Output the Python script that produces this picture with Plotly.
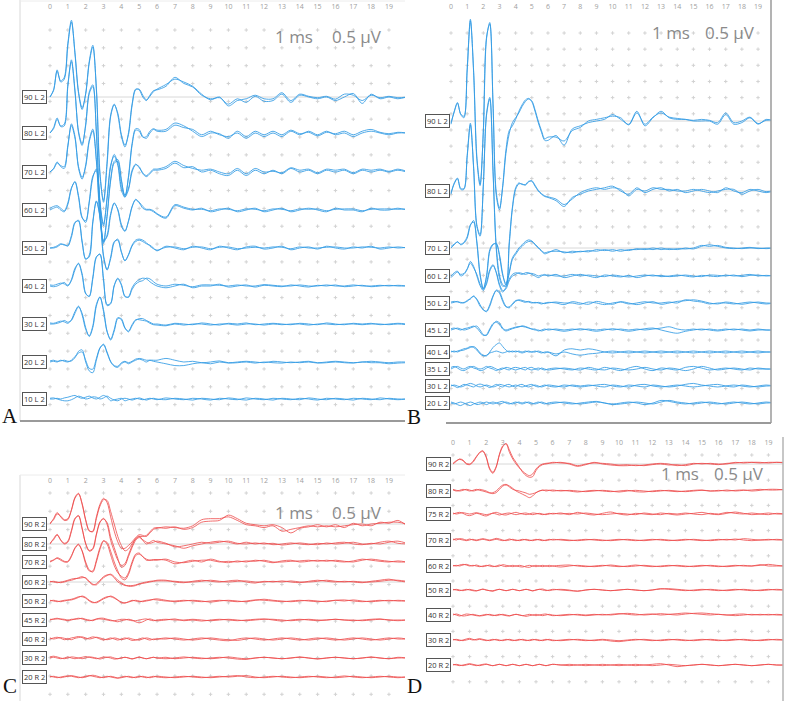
import numpy as np
import plotly.graph_objects as go

# ---------------- time grid (ms) ----------------
T = [0, 0.2, 0.4, 0.6, 0.8, 1.0, 1.2, 1.4, 1.6, 1.8, 2.0, 2.2, 2.4, 2.6, 2.8, 3.0,
     3.2, 3.4, 3.6, 3.8, 4.0, 4.2, 4.4, 4.6, 4.8, 5.0, 5.2, 5.4, 5.6, 5.8, 6.0,
     6.5, 7.0, 7.5, 8.0, 8.5, 9.0, 9.5, 10.0, 10.5, 11.0, 11.5, 12.0, 12.5, 13.0,
     13.5, 14.0, 14.5, 15.0, 15.5, 16.0, 16.5, 17.0, 17.5, 18.0, 18.5, 19.0, 19.5, 20.0]

TICK_VALS = list(range(20))
TICK_TEXT = [str(v) for v in TICK_VALS]

# ---------------- Panel A (left ear, blue) ----------------
A_LABELS = ["90 L 2", "80 L 2", "70 L 2", "60 L 2", "50 L 2", "40 L 2", "30 L 2", "20 L 2", "10 L 2"]
A90_1 = [0, 0.2, 0.72, 0.45, 0.55, 1.5, 2.15, 1.2, 0.1, -0.35, 0.1, 1.0, 1.45, 0.2, -2.2, -2.9,
         -1.8, -0.5, -0.2, -0.5, -1.1, -1.4, -1.0, -0.2, 0.22, 0.2, 0.0, -0.1, 0.05, 0.18, 0.2,
         0.3, 0.55, 0.38, 0.28, 0.05, -0.05, -0.02, -0.2, -0.05, -0.15, 0.02, -0.12, -0.1, 0.08,
         -0.15, 0.05, 0.0, -0.05, 0.0, -0.1, 0.0, 0.1, -0.18, 0.08, -0.05, 0.0, -0.05, 0.0]
A90_2 = [0, 0.18, 0.76, 0.42, 0.5, 1.45, 2.1, 1.25, 0.15, -0.3, 0.08, 0.95, 1.4, 0.25, -2.1, -2.95,
         -1.9, -0.55, -0.22, -0.45, -1.05, -1.35, -1.05, -0.25, 0.2, 0.22, 0.05, -0.08, 0.02, 0.15, 0.22,
         0.35, 0.5, 0.42, 0.3, 0.08, -0.08, 0.0, -0.25, -0.1, -0.05, 0.05, -0.05, -0.05, 0.12,
         -0.1, 0.08, 0.02, -0.02, 0.02, -0.06, 0.08, 0.05, -0.1, 0.05, -0.02, 0.02, -0.02, 0.0]
A80_1 = [0, 0.15, 0.42, 0.18, 0.2, 1.3, 2.05, 1.2, 0.0, -0.35, 0.25, 1.15, 1.35, 0.0, -2.0, -2.6,
         -1.8, -0.9, -0.65, -0.9, -1.6, -1.8, -1.2, -0.3, 0.12, 0.1, -0.1, -0.15, 0.0, 0.1, 0.05,
         0.05, 0.22, 0.15, 0.1, -0.05, 0.05, -0.05, -0.1, 0.0, -0.15, 0.0, -0.1, 0.0, -0.1,
         0.05, -0.05, 0.05, -0.05, 0.05, -0.05, 0.0, -0.1, 0.0, 0.05, 0.0, -0.05, 0.0, 0.0]
A80_2 = [0, 0.12, 0.38, 0.2, 0.25, 1.35, 2.0, 1.15, 0.05, -0.3, 0.2, 1.1, 1.3, 0.05, -1.9, -2.55,
         -1.85, -0.95, -0.6, -0.85, -1.5, -1.75, -1.25, -0.35, 0.08, 0.05, -0.12, -0.1, 0.05, 0.12, 0.08,
         0.1, 0.28, 0.2, 0.05, -0.1, 0.0, -0.02, -0.15, 0.05, -0.1, 0.05, -0.05, 0.05, -0.05,
         0.08, -0.02, 0.02, -0.08, 0.02, -0.02, 0.05, -0.05, 0.05, 0.1, 0.02, -0.02, 0.02, 0.0]
A70_1 = [0, 0.1, 0.28, 0.15, 0.1, 0.7, 1.35, 1.0, 0.1, -0.2, 0.2, 0.9, 1.2, 0.3, -1.3, -2.0,
         -1.2, -0.2, 0.3, 0.35, -0.2, -0.7, -0.5, 0.0, 0.2, 0.15, -0.05, -0.13, -0.05, 0.05, 0.05,
         0.1, 0.25, 0.12, 0.15, 0.0, 0.05, -0.05, -0.1, 0.05, -0.1, 0.05, -0.05, 0.05, -0.05,
         0.1, 0.0, 0.05, -0.05, 0.05, 0.0, 0.05, -0.05, 0.05, 0.0, 0.05, 0.0, 0.05, 0.0]
A70_2 = [0, 0.08, 0.25, 0.18, 0.15, 0.75, 1.3, 0.95, 0.15, -0.15, 0.15, 0.85, 1.15, 0.35, -1.2, -1.95,
         -1.25, -0.25, 0.25, 0.3, -0.25, -0.65, -0.45, 0.05, 0.22, 0.12, -0.02, -0.1, -0.02, 0.08, 0.08,
         0.15, 0.3, 0.18, 0.1, 0.05, 0.08, 0.0, -0.05, 0.1, -0.05, 0.1, 0.0, 0.02, -0.02,
         0.12, 0.05, 0.08, -0.02, 0.08, 0.05, 0.08, -0.02, 0.08, 0.05, 0.08, 0.02, 0.08, 0.02]
A60_1 = [0, 0.05, 0.08, 0.0, -0.05, 0.15, 0.6, 0.8, 0.4, -0.2, -0.35, 0.2, 0.9, 1.15, 0.2, -0.9,
         -0.7, -0.1, 0.2, 0.0, -0.45, -0.6, -0.3, 0.1, 0.28, 0.2, 0.05, 0.0, 0.0, -0.05, -0.12,
         -0.23, 0.12, 0.05, 0.0, 0.05, -0.05, 0.0, 0.05, -0.05, 0.0, 0.05, -0.05, 0.0, 0.05,
         -0.05, 0.0, 0.05, 0.0, -0.05, 0.05, 0.0, 0.0, -0.05, 0.05, 0.0, 0.0, 0.05, 0.0]
A60_2 = [0.05, 0.1, 0.12, 0.05, -0.02, 0.2, 0.62, 0.78, 0.35, -0.22, -0.3, 0.25, 0.95, 1.1, 0.15, -0.85,
         -0.75, -0.15, 0.18, 0.02, -0.4, -0.58, -0.32, 0.08, 0.3, 0.22, 0.1, 0.02, 0.02, -0.02, -0.1,
         -0.2, 0.15, 0.08, 0.02, 0.02, -0.02, 0.03, 0.02, -0.02, 0.03, 0.02, -0.02, 0.03, 0.02,
         -0.02, 0.03, 0.02, 0.03, -0.02, 0.02, 0.03, 0.03, -0.02, 0.02, 0.03, 0.03, 0.02, 0.03]
A50_1 = [0, 0.0, 0.03, 0.1, 0.1, 0.05, 0.3, 0.7, 0.78, 0.2, -0.3, -0.25, 0.7, 1.3, 0.9, -0.2,
         -0.6, -0.3, 0.15, 0.25, -0.1, -0.36, -0.2, 0.05, 0.18, 0.22, 0.18, 0.12, 0.08, 0.0, -0.08,
         0.05, 0.0, -0.05, 0.05, 0.0, -0.05, 0.05, 0.0, -0.05, 0.03, 0.05, -0.03, 0.0, 0.05,
         -0.05, 0.0, 0.03, -0.03, 0.05, 0.0, -0.03, 0.03, 0.0, 0.05, -0.03, 0.0, 0.03, 0.0]
A50_2 = [0, 0.02, 0.06, 0.12, 0.08, 0.08, 0.35, 0.72, 0.75, 0.15, -0.32, -0.2, 0.75, 1.32, 0.85, -0.25,
         -0.62, -0.25, 0.18, 0.22, -0.12, -0.35, -0.18, 0.08, 0.22, 0.25, 0.22, 0.15, 0.05, -0.02, -0.06,
         0.02, 0.03, -0.02, 0.02, 0.03, -0.02, 0.02, 0.03, -0.02, 0.0, 0.02, 0.0, 0.03, 0.02,
         -0.02, 0.03, 0.0, 0.0, 0.02, 0.03, 0.0, 0.0, 0.03, 0.02, 0.0, 0.03, 0.0, 0.02]
A40_1 = [0, -0.02, 0.0, 0.05, 0.1, 0.02, 0.15, 0.45, 0.64, 0.35, -0.2, -0.3, 0.2, 0.8, 0.9, 0.2,
         -0.55, -0.5, 0.0, 0.22, 0.05, -0.3, -0.3, -0.05, 0.1, 0.18, 0.22, 0.2, 0.12, 0.05, 0.0,
         -0.05, 0.0, 0.05, -0.05, 0.0, 0.0, 0.05, -0.03, 0.0, 0.03, -0.03, 0.02, 0.0, -0.02,
         0.03, 0.0, -0.03, 0.02, 0.0, 0.03, -0.02, 0.0, 0.02, -0.02, 0.0, 0.02, 0.0, 0.0]
A40_2 = [0.03, 0.02, 0.05, 0.08, 0.06, 0.0, 0.18, 0.5, 0.62, 0.3, -0.22, -0.28, 0.25, 0.82, 0.88, 0.15,
         -0.52, -0.48, 0.02, 0.2, 0.02, -0.28, -0.32, -0.1, 0.05, 0.12, 0.15, 0.22, 0.2, 0.12, 0.05,
         0.0, 0.05, 0.02, -0.02, 0.03, 0.03, 0.02, 0.0, 0.03, 0.0, 0.0, 0.04, 0.02, 0.0,
         0.0, 0.03, 0.0, 0.0, 0.03, 0.0, 0.0, 0.03, 0.0, 0.0, 0.02, 0.0, 0.02, 0.0]
A30_1 = [0, 0.0, 0.02, 0.05, 0.1, 0.05, 0.1, 0.3, 0.48, 0.3, -0.1, -0.35, -0.1, 0.5, 0.76, 0.4,
         -0.2, -0.45, -0.2, 0.15, 0.15, -0.1, -0.22, -0.05, 0.1, 0.15, 0.15, 0.1, 0.05, 0.0, 0.0,
         -0.03, 0.02, 0.0, -0.02, 0.03, 0.0, -0.03, 0.02, 0.0, 0.03, -0.02, 0.0, 0.02, 0.0,
         -0.02, 0.02, 0.0, -0.02, 0.03, 0.0, -0.02, 0.02, 0.0, 0.02, -0.02, 0.0, 0.02, 0.0]
A30_2 = [0.03, 0.02, 0.05, 0.08, 0.06, 0.02, 0.12, 0.35, 0.5, 0.25, -0.15, -0.33, -0.05, 0.55, 0.75, 0.35,
         -0.22, -0.42, -0.15, 0.18, 0.12, -0.12, -0.2, -0.02, 0.12, 0.12, 0.1, 0.08, 0.02, -0.02, -0.03,
         -0.05, 0.0, -0.03, 0.0, 0.0, -0.03, 0.0, 0.0, -0.03, 0.0, 0.0, -0.03, 0.0, -0.02,
         0.0, 0.0, -0.03, 0.0, 0.0, -0.02, 0.0, 0.0, -0.02, 0.0, 0.0, -0.02, 0.0, -0.02]
A20_1 = [0, 0.02, 0.0, 0.05, 0.02, 0.0, 0.05, 0.15, 0.25, 0.28, 0.05, -0.18, -0.2, 0.1, 0.4, 0.48,
         0.25, 0.0, -0.12, -0.15, -0.05, 0.0, -0.05, 0.0, 0.05, 0.08, 0.05, 0.0, 0.05, 0.05, 0.05,
         0.1, 0.05, 0.0, 0.02, -0.02, 0.0, 0.03, -0.02, 0.0, 0.02, 0.0, -0.02, 0.02, 0.0,
         -0.02, 0.0, 0.02, -0.02, 0.0, 0.02, 0.0, -0.02, 0.0, 0.02, 0.0, -0.02, 0.0, 0.0]
A20_2 = [0.03, 0.05, 0.02, 0.03, 0.05, 0.02, 0.03, 0.12, 0.3, 0.34, 0.0, -0.25, -0.3, 0.05, 0.38, 0.5,
         0.28, 0.02, -0.1, -0.12, -0.02, 0.02, -0.02, 0.02, 0.08, 0.1, 0.08, 0.05, 0.05, 0.02, 0.0,
         -0.05, -0.1, -0.1, -0.05, -0.02, -0.05, 0.0, -0.03, -0.02, 0.0, -0.03, 0.0, -0.02, -0.03,
         0.0, -0.02, 0.0, -0.03, -0.02, 0.0, -0.02, -0.03, 0.0, -0.02, -0.02, -0.05, -0.03, -0.02]
A10_1 = [0, 0.0, 0.02, 0.0, 0.03, 0.05, 0.08, 0.1, 0.05, 0.02, 0.05, 0.08, 0.03, 0.0, 0.05, 0.1,
         0.05, -0.05, -0.02, 0.0, 0.02, -0.05, -0.02, 0.0, 0.02, 0.0, -0.02, 0.0, 0.02, 0.0, -0.02,
         0.03, 0.0, -0.02, 0.02, 0.0, -0.03, 0.02, 0.0, -0.02, 0.03, 0.0, -0.02, 0.02, 0.0,
         -0.02, 0.02, 0.0, -0.03, 0.02, 0.0, -0.02, 0.02, 0.0, -0.02, 0.03, 0.0, -0.02, 0.0]
A10_2 = [0.02, 0.03, 0.0, -0.03, -0.05, -0.05, -0.02, 0.03, 0.08, 0.05, 0.0, 0.02, 0.06, 0.05, 0.0, 0.03,
         0.08, 0.02, -0.03, -0.05, 0.0, 0.02, 0.0, -0.03, 0.0, 0.03, 0.0, -0.03, 0.0, 0.02, 0.0,
         -0.02, 0.02, 0.0, -0.03, 0.02, 0.0, -0.02, 0.03, 0.0, -0.03, 0.02, 0.0, -0.03, 0.02,
         0.0, -0.02, 0.03, 0.0, -0.02, 0.02, 0.0, -0.03, 0.02, 0.0, -0.02, 0.02, 0.0, 0.0]

# ---------------- Panel B (left ear, blue) ----------------
B_LABELS = ["90 L 2", "80 L 2", "70 L 2", "60 L 2", "50 L 2", "45 L 2", "40 L 4", "35 L 2", "30 L 2", "20 L 2"]
B90_1 = [-0.1, 0.3, 0.57, 0.2, 0.1, 1.6, 3.15, 1.5, -1.2, -2.0, -0.3, 2.6, 3.0, 0.5, -2.3, -2.75,
         -2.0, -0.9, -0.3, -0.15, 0.05, 0.3, 0.5, 0.65, 0.7, 0.6, 0.3, -0.05, -0.35, -0.6, -0.6,
         -0.45, -0.75, -0.25, -0.15, -0.05, 0.0, 0.05, 0.2, 0.05, -0.1, 0.3, -0.15, 0.1, 0.3,
         0.1, 0.05, 0.05, 0.0, 0.0, 0.0, -0.1, 0.2, -0.1, -0.05, 0.1, -0.1, 0.05, 0.0]
B90_2 = [-0.05, 0.28, 0.55, 0.22, 0.15, 1.55, 3.1, 1.55, -1.1, -1.95, -0.35, 2.55, 3.05, 0.55, -2.2, -2.7,
         -2.05, -1.0, -0.4, -0.05, 0.1, 0.25, 0.45, 0.6, 0.68, 0.62, 0.35, 0.0, -0.3, -0.55, -0.5,
         -0.5, -0.62, -0.3, -0.2, 0.0, 0.05, 0.1, 0.15, 0.1, -0.12, 0.25, -0.1, 0.12, 0.25,
         0.12, 0.08, 0.05, 0.02, 0.05, 0.02, -0.05, 0.25, -0.05, 0.0, 0.12, -0.08, 0.02, 0.02]
B80_1 = [-0.1, 0.25, 0.4, 0.05, 0.05, 1.1, 2.1, 0.7, -1.1, -1.4, 0.2, 2.4, 2.9, 0.6, -1.8, -2.7,
         -2.95, -2.9, -1.6, -0.5, 0.1, 0.25, 0.2, 0.2, 0.3, 0.3, 0.15, 0.0, -0.1, -0.17, -0.2,
         -0.3, -0.48, -0.2, -0.1, 0.0, 0.05, 0.1, 0.15, 0.0, -0.1, 0.1, -0.05, 0.05, 0.1,
         0.0, 0.05, -0.05, 0.0, 0.05, 0.0, -0.05, 0.1, 0.0, -0.05, 0.05, 0.0, -0.05, 0.0]
B80_2 = [-0.05, 0.22, 0.38, 0.08, 0.08, 1.05, 2.05, 0.75, -1.05, -1.35, 0.15, 2.35, 2.85, 0.65, -1.7, -2.6,
         -2.9, -2.95, -1.7, -0.55, 0.05, 0.22, 0.22, 0.18, 0.28, 0.32, 0.18, 0.02, -0.08, -0.15, -0.18,
         -0.25, -0.42, -0.25, -0.05, 0.05, 0.1, 0.05, 0.1, 0.05, -0.15, 0.05, 0.0, 0.1, 0.05,
         0.05, 0.0, 0.0, 0.05, 0.0, -0.05, 0.0, 0.05, 0.05, -0.1, 0.0, 0.05, -0.02, 0.02]
B70_1 = [0.0, 0.1, 0.2, 0.1, 0.15, 0.3, 0.7, 0.85, 0.2, -0.8, -1.25, -0.9, -0.1, 0.1, 0.15, -0.2,
         -0.8, -1.15, -0.8, -0.35, -0.2, -0.05, 0.05, 0.15, 0.2, 0.2, 0.1, 0.0, -0.1, -0.18, -0.15,
         -0.05, -0.15, -0.1, -0.12, -0.08, -0.1, -0.05, -0.1, -0.05, -0.08, -0.02, -0.05, 0.0, -0.05,
         -0.02, -0.05, 0.0, -0.03, 0.05, 0.1, 0.05, 0.0, -0.02, 0.0, 0.02, -0.02, 0.0, 0.0]
B70_2 = [0.05, 0.12, 0.18, 0.12, 0.18, 0.35, 0.72, 0.8, 0.15, -0.85, -1.28, -0.85, -0.05, 0.12, 0.12, -0.25,
         -0.85, -1.1, -0.75, -0.3, -0.15, 0.0, 0.1, 0.2, 0.25, 0.22, 0.12, 0.02, -0.08, -0.15, -0.12,
         -0.1, -0.12, -0.15, -0.1, -0.12, -0.05, -0.08, -0.05, -0.1, -0.05, -0.05, -0.02, -0.05, 0.0,
         -0.05, -0.02, -0.03, 0.0, 0.08, 0.05, 0.08, 0.02, 0.0, -0.02, 0.0, 0.0, -0.02, 0.0]
B60_1 = [0.0, 0.1, 0.15, 0.0, 0.05, 0.2, 0.45, 0.3, 0.0, -0.3, -0.45, -0.2, 0.2, 0.35, 0.1, -0.3,
         -0.5, -0.35, -0.1, 0.05, 0.1, 0.08, 0.05, 0.1, 0.1, 0.05, 0.0, -0.05, 0.0, 0.05, 0.0,
         0.05, -0.05, 0.0, 0.05, 0.0, -0.05, 0.03, 0.0, -0.03, 0.02, -0.05, 0.0, 0.03, -0.02,
         0.0, 0.03, 0.0, -0.03, 0.02, 0.0, -0.02, 0.03, 0.0, 0.02, 0.05, 0.0, 0.02, 0.0]
B60_2 = [-0.05, 0.05, 0.12, 0.05, 0.08, 0.22, 0.4, 0.25, 0.05, -0.25, -0.4, -0.25, 0.15, 0.32, 0.12, -0.25,
         -0.45, -0.4, -0.15, 0.0, 0.05, 0.1, 0.08, 0.05, 0.08, 0.08, 0.05, 0.0, 0.03, 0.02, 0.03,
         0.0, 0.0, 0.05, 0.0, 0.03, 0.0, -0.02, 0.03, 0.0, -0.03, 0.0, 0.03, 0.0, 0.02,
         -0.02, 0.0, 0.03, 0.0, -0.02, 0.03, 0.02, 0.0, 0.03, -0.02, 0.02, 0.03, 0.0, 0.02]
B50_1 = [0.0, 0.02, 0.05, 0.0, 0.02, 0.05, 0.15, 0.2, 0.1, -0.1, -0.2, -0.27, -0.1, 0.2, 0.4, 0.35,
         0.1, -0.1, -0.15, -0.05, 0.05, 0.1, 0.08, 0.05, 0.03, 0.0, 0.02, 0.0, -0.03, 0.0, 0.02,
         0.0, -0.05, 0.04, 0.0, -0.04, 0.05, 0.0, -0.04, 0.04, 0.0, -0.05, 0.0, 0.04, -0.04,
         0.0, 0.05, 0.07, 0.1, 0.06, 0.0, -0.03, 0.03, 0.0, -0.04, 0.0, 0.03, 0.0, 0.0]
B50_2 = [0.03, 0.05, 0.03, 0.02, 0.0, 0.08, 0.12, 0.22, 0.12, -0.05, -0.22, -0.25, -0.05, 0.22, 0.38, 0.3,
         0.05, -0.12, -0.12, -0.02, 0.08, 0.08, 0.05, 0.02, 0.05, 0.02, 0.0, 0.02, 0.0, -0.02, 0.0,
         0.03, 0.0, 0.0, -0.04, 0.03, 0.0, -0.05, 0.0, 0.03, -0.03, 0.0, 0.04, 0.0, 0.0,
         0.03, 0.0, 0.1, 0.06, 0.03, -0.03, 0.0, 0.0, -0.03, 0.0, 0.03, 0.0, -0.03, 0.0]
B45_1 = [0.0, 0.03, 0.06, 0.03, 0.0, 0.02, 0.06, 0.1, 0.12, 0.0, -0.14, -0.17, 0.0, 0.17, 0.27, 0.22,
         0.06, 0.0, 0.03, 0.06, 0.09, 0.11, 0.11, 0.09, 0.06, 0.03, 0.0, 0.0, -0.03, 0.0, 0.03,
         0.0, -0.04, 0.0, 0.04, 0.0, -0.04, 0.0, 0.04, 0.0, -0.04, 0.0, 0.04, 0.06, 0.0,
         -0.06, -0.1, -0.04, 0.0, 0.03, 0.0, -0.03, 0.0, 0.03, 0.0, -0.03, 0.0, 0.0, 0.0]
B45_2 = [0.04, 0.06, 0.03, 0.0, 0.04, 0.06, 0.09, 0.12, 0.06, -0.06, -0.17, -0.14, 0.04, 0.2, 0.24, 0.17,
         0.03, -0.03, 0.0, 0.04, 0.07, 0.09, 0.13, 0.11, 0.07, 0.03, 0.03, -0.03, 0.0, 0.03, 0.0,
         0.03, 0.0, 0.03, 0.0, 0.03, 0.0, 0.03, 0.0, 0.03, 0.0, 0.03, 0.0, 0.03, 0.06,
         0.1, 0.03, 0.0, 0.03, 0.0, 0.03, 0.0, 0.03, 0.0, 0.03, 0.0, 0.03, 0.0, 0.0]
B40_1 = [0.0, 0.03, 0.0, 0.04, 0.06, 0.1, 0.14, 0.17, 0.1, -0.03, -0.1, -0.12, 0.0, 0.14, 0.23, 0.28,
         0.17, 0.06, 0.0, 0.03, 0.0, 0.03, 0.0, 0.03, 0.0, 0.0, 0.03, 0.0, -0.03, 0.0, 0.0,
         -0.12, 0.06, 0.1, 0.06, 0.1, 0.06, 0.0, -0.03, 0.0, 0.03, 0.0, -0.03, 0.0, 0.03,
         0.0, -0.03, 0.0, 0.03, 0.0, -0.03, 0.0, 0.03, 0.0, -0.03, 0.0, 0.03, 0.0, 0.0]
B40_2 = [0.03, 0.0, 0.03, 0.06, 0.1, 0.12, 0.17, 0.14, 0.06, -0.06, -0.12, -0.1, -0.03, 0.0, 0.03, 0.0,
         -0.03, 0.0, 0.03, 0.0, 0.03, 0.0, -0.03, 0.0, 0.03, 0.0, 0.0, 0.03, 0.0, -0.03, 0.0,
         -0.06, 0.0, -0.06, -0.1, -0.06, -0.04, 0.0, 0.03, 0.0, -0.03, 0.0, 0.03, 0.0, -0.03,
         0.0, 0.03, 0.0, -0.03, 0.0, 0.03, 0.0, -0.03, 0.0, 0.03, 0.0, -0.03, 0.0, 0.0]
B35_1 = [0.0, 0.05, 0.08, 0.03, 0.0, 0.05, 0.08, 0.03, 0.0, -0.05, -0.03, 0.03, 0.08, 0.05, 0.0, -0.03,
         0.0, 0.05, 0.03, 0.0, -0.03, 0.0, 0.03, 0.05, 0.0, -0.03, 0.0, 0.03, 0.0, -0.03, 0.0,
         0.03, 0.0, -0.03, 0.03, 0.0, -0.03, 0.05, 0.0, -0.05, 0.03, 0.08, 0.0, -0.05, 0.03,
         0.0, -0.03, 0.05, 0.08, 0.03, -0.03, 0.0, 0.03, 0.0, -0.03, 0.03, 0.0, 0.0, 0.0]
B35_2 = [0.05, 0.08, 0.03, -0.03, -0.05, 0.0, 0.05, 0.08, 0.03, 0.0, 0.03, 0.08, 0.03, 0.0, -0.05, 0.0,
         0.03, 0.0, -0.03, 0.03, 0.05, 0.03, 0.0, -0.03, 0.03, 0.05, 0.0, -0.03, 0.03, 0.0, -0.03,
         0.0, 0.03, 0.0, -0.03, 0.05, 0.0, -0.03, 0.03, 0.0, -0.03, 0.0, 0.05, 0.0, -0.03,
         0.03, 0.0, -0.05, 0.0, 0.08, 0.03, -0.03, 0.0, 0.03, 0.0, -0.03, 0.03, 0.0, 0.0]
B30_1 = [0.0, 0.03, 0.0, -0.03, 0.0, 0.05, 0.08, 0.05, 0.0, -0.03, 0.0, 0.03, 0.0, -0.03, 0.0, 0.05,
         0.03, 0.0, -0.03, 0.0, 0.03, 0.0, -0.03, 0.0, 0.03, 0.05, 0.0, -0.03, 0.0, 0.03, 0.0,
         -0.03, 0.03, 0.0, -0.03, 0.0, 0.03, 0.05, 0.0, -0.03, 0.03, 0.0, -0.03, 0.03, 0.0,
         -0.03, 0.0, 0.05, 0.08, 0.03, 0.0, -0.03, 0.0, 0.03, 0.0, -0.03, 0.0, 0.03, 0.0]
B30_2 = [0.03, 0.0, -0.05, 0.0, 0.05, 0.03, 0.0, -0.03, 0.03, 0.06, 0.03, 0.0, -0.05, 0.0, 0.05, 0.0,
         -0.03, 0.03, 0.05, 0.0, -0.03, 0.03, 0.05, 0.0, -0.03, 0.0, 0.03, 0.0, -0.03, 0.0, 0.03,
         0.0, -0.03, 0.03, 0.0, 0.03, 0.0, -0.03, 0.03, 0.0, -0.03, 0.03, 0.05, 0.0, -0.03,
         0.0, 0.03, 0.0, -0.03, 0.0, 0.03, 0.05, 0.0, -0.03, 0.03, 0.0, -0.03, 0.0, 0.0]
B20_1 = [0.0, -0.03, 0.0, 0.03, 0.0, -0.05, -0.08, -0.03, 0.0, 0.03, 0.0, -0.05, 0.0, 0.03, 0.0, -0.03,
         0.0, 0.03, 0.0, -0.03, 0.0, 0.03, 0.0, 0.03, 0.0, -0.03, 0.0, 0.03, 0.0, -0.03, 0.0,
         0.03, 0.0, -0.03, 0.0, 0.03, 0.05, 0.0, -0.03, 0.0, 0.03, 0.0, -0.05, 0.0, 0.08,
         0.05, 0.0, -0.03, 0.0, 0.03, 0.0, -0.03, 0.0, 0.03, 0.0, -0.03, 0.0, 0.03, 0.0]
B20_2 = [0.03, 0.0, -0.05, -0.08, -0.03, 0.0, 0.03, 0.0, -0.05, -0.03, 0.0, 0.03, 0.0, -0.03, 0.0, 0.03,
         0.05, 0.0, -0.03, 0.0, 0.03, 0.0, -0.03, 0.0, 0.03, 0.0, -0.03, 0.0, 0.03, 0.0, -0.03,
         0.0, 0.03, 0.0, -0.03, 0.0, 0.03, 0.0, -0.05, -0.03, 0.0, 0.03, 0.0, -0.03, 0.03,
         0.08, 0.03, 0.0, -0.03, 0.0, 0.03, 0.0, -0.03, 0.0, 0.03, 0.0, -0.03, 0.0, 0.0]

# ---------------- Panel C (right ear, red) ----------------
C_LABELS = ["90 R 2", "80 R 2", "70 R 2", "60 R 2", "50 R 2", "45 R 2", "40 R 2", "30 R 2", "20 R 2"]
C90_1 = [0.0, 0.15, 0.32, 0.2, 0.1, 0.12, 0.4, 0.75, 0.86, 0.55, 0.1, -0.2, -0.2, 0.2, 0.55, 0.72,
         0.6, 0.2, -0.2, -0.5, -0.68, -0.68, -0.6, -0.5, -0.38, -0.3, -0.32, -0.35, -0.25, -0.15, -0.12,
         -0.08, -0.1, -0.12, -0.05, 0.12, 0.15, 0.15, 0.2, 0.1, -0.02, -0.05, -0.1, -0.05, -0.2,
         -0.15, -0.1, -0.05, -0.08, -0.05, -0.08, -0.05, -0.02, 0.0, -0.05, 0.05, 0.02, 0.1, -0.05]
C90_2 = [0.02, 0.12, 0.28, 0.22, 0.12, 0.15, 0.38, 0.72, 0.84, 0.58, 0.12, -0.18, -0.22, 0.15, 0.5, 0.68,
         0.66, 0.35, 0.0, -0.35, -0.6, -0.75, -0.7, -0.55, -0.42, -0.35, -0.35, -0.32, -0.22, -0.12, -0.1,
         -0.12, -0.08, -0.15, -0.1, 0.05, 0.08, 0.1, 0.25, 0.15, 0.02, -0.02, -0.05, -0.02, -0.1,
         -0.25, -0.12, -0.08, -0.02, -0.08, -0.02, -0.1, 0.02, -0.05, 0.0, 0.02, 0.05, 0.05, 0.0]
C80_1 = [0.0, 0.15, 0.27, 0.1, 0.0, 0.05, 0.35, 0.7, 0.8, 0.45, 0.0, -0.2, -0.15, 0.25, 0.6, 0.72,
         0.55, 0.1, -0.2, -0.45, -0.6, -0.55, -0.3, -0.05, 0.15, 0.22, 0.1, 0.0, 0.05, 0.1, 0.05,
         0.0, -0.05, -0.12, -0.05, 0.0, 0.05, 0.08, 0.05, 0.0, 0.05, 0.0, 0.03, -0.02, 0.0,
         0.03, 0.0, -0.02, 0.02, 0.0, 0.03, 0.05, 0.0, -0.02, 0.02, 0.0, 0.05, 0.08, 0.02]
C80_2 = [0.02, 0.12, 0.25, 0.12, 0.02, 0.08, 0.38, 0.72, 0.78, 0.42, 0.02, -0.18, -0.12, 0.28, 0.62, 0.7,
         0.6, 0.2, -0.1, -0.4, -0.65, -0.6, -0.35, -0.1, 0.1, 0.18, 0.12, 0.05, 0.02, 0.05, 0.08,
         0.02, -0.08, -0.05, 0.0, 0.05, 0.02, 0.05, 0.08, 0.02, 0.0, 0.03, 0.0, 0.02, -0.03,
         0.0, 0.03, 0.0, -0.02, 0.03, 0.0, 0.02, 0.05, 0.0, 0.0, 0.05, 0.08, 0.02, 0.0]
C70_1 = [0.0, 0.05, 0.1, 0.05, 0.0, 0.0, 0.15, 0.4, 0.5, 0.3, -0.05, -0.25, -0.25, 0.05, 0.4, 0.6,
         0.5, 0.2, -0.1, -0.3, -0.4, -0.45, -0.3, 0.0, 0.22, 0.25, 0.15, 0.05, 0.05, 0.07, 0.07,
         0.05, -0.05, 0.0, 0.05, 0.0, 0.08, 0.02, -0.02, 0.03, 0.0, 0.05, 0.02, -0.02, 0.03,
         0.05, 0.0, 0.02, 0.05, 0.02, 0.05, 0.02, 0.0, 0.05, 0.08, 0.05, 0.02, 0.0, 0.0]
C70_2 = [0.02, 0.06, 0.12, 0.08, 0.02, 0.02, 0.18, 0.38, 0.48, 0.32, 0.0, -0.22, -0.28, 0.0, 0.35, 0.58,
         0.55, 0.3, 0.0, -0.25, -0.45, -0.5, -0.35, -0.05, 0.18, 0.22, 0.15, 0.08, 0.05, 0.05, 0.05,
         0.08, 0.0, -0.02, 0.02, 0.05, 0.05, 0.0, 0.02, 0.0, 0.03, 0.02, 0.05, 0.0, 0.0,
         0.02, 0.03, 0.05, 0.02, 0.05, 0.02, 0.0, 0.03, 0.08, 0.05, 0.02, 0.0, 0.03, 0.0]
C60_1 = [0.0, 0.02, 0.0, -0.02, 0.0, 0.03, 0.05, 0.08, 0.12, 0.15, 0.1, 0.0, -0.08, -0.05, 0.05, 0.15,
         0.2, 0.2, 0.12, 0.0, -0.05, -0.1, -0.1, -0.1, -0.08, -0.05, -0.02, 0.0, 0.02, 0.03, 0.05,
         0.05, 0.0, -0.02, 0.02, 0.05, 0.02, 0.0, 0.03, 0.05, 0.0, -0.03, 0.02, 0.0, 0.03,
         0.0, -0.02, 0.02, 0.05, 0.02, 0.0, 0.02, 0.0, -0.02, 0.02, 0.05, 0.08, 0.03, 0.0]
C60_2 = [0.02, 0.0, -0.02, 0.0, 0.02, 0.05, 0.08, 0.1, 0.1, 0.12, 0.12, 0.02, -0.06, -0.08, 0.02, 0.12,
         0.18, 0.22, 0.15, 0.05, -0.02, -0.08, -0.12, -0.12, -0.1, -0.06, -0.04, -0.02, 0.0, 0.02, 0.03,
         0.03, 0.02, 0.0, 0.0, 0.02, 0.05, 0.02, 0.0, 0.02, 0.03, 0.0, 0.0, 0.02, 0.0,
         0.03, 0.0, 0.0, 0.02, 0.05, 0.02, 0.0, 0.02, 0.0, 0.0, 0.02, 0.05, 0.05, 0.02]
C50_1 = [0.0, 0.02, 0.0, -0.02, 0.0, 0.02, 0.03, 0.06, 0.1, 0.14, 0.1, 0.02, -0.03, -0.05, 0.0, 0.06,
         0.1, 0.14, 0.1, 0.03, -0.03, -0.05, -0.03, 0.0, 0.02, 0.0, -0.02, 0.0, 0.02, 0.05, 0.06,
         0.02, -0.02, 0.0, 0.02, 0.0, -0.03, 0.0, 0.02, 0.0, -0.02, 0.02, 0.05, 0.02, 0.0,
         -0.02, 0.0, 0.02, 0.0, -0.02, 0.02, 0.0, 0.03, 0.0, -0.02, 0.0, 0.02, 0.0, 0.0]
C50_2 = [0.02, 0.0, -0.02, 0.0, 0.02, 0.03, 0.05, 0.08, 0.12, 0.12, 0.08, 0.0, -0.05, -0.03, 0.02, 0.08,
         0.12, 0.12, 0.08, 0.02, -0.05, -0.06, -0.02, 0.02, 0.0, -0.02, 0.0, 0.02, 0.03, 0.04, 0.03,
         0.0, 0.0, 0.02, 0.0, -0.02, 0.0, 0.02, 0.0, -0.02, 0.0, 0.03, 0.02, 0.0, -0.02,
         0.0, 0.02, 0.0, -0.02, 0.0, 0.02, 0.03, 0.0, -0.02, 0.0, 0.02, 0.0, 0.02, 0.0]
C45_1 = [0.0, 0.03, 0.05, 0.02, 0.0, -0.02, 0.0, 0.03, 0.05, 0.03, 0.0, -0.02, 0.0, 0.03, 0.05, 0.05,
         0.02, 0.0, -0.03, -0.05, -0.02, 0.0, 0.02, 0.0, -0.05, -0.08, -0.05, 0.0, 0.03, 0.0, -0.02,
         0.0, 0.03, -0.02, 0.0, -0.03, 0.0, 0.02, 0.0, -0.02, 0.0, 0.02, 0.03, 0.0, -0.03,
         0.0, 0.02, 0.0, -0.02, 0.0, 0.02, 0.0, -0.02, 0.0, 0.02, 0.03, 0.0, -0.02, 0.0]
C45_2 = [0.02, 0.02, 0.03, 0.03, 0.02, 0.0, 0.02, 0.02, 0.03, 0.05, 0.02, 0.0, -0.02, 0.02, 0.03, 0.02,
         0.0, -0.02, -0.02, 0.0, 0.02, 0.02, 0.0, -0.02, -0.02, 0.0, 0.02, 0.03, 0.0, -0.02, 0.0,
         0.02, 0.0, 0.0, 0.02, 0.0, -0.02, 0.0, 0.02, 0.0, -0.02, 0.0, 0.02, 0.02, 0.0,
         -0.02, 0.0, 0.02, 0.0, 0.0, 0.02, 0.0, 0.0, -0.02, 0.0, 0.02, 0.0, 0.0, 0.0]
C40_1 = [0.0, 0.03, 0.05, 0.02, -0.02, 0.0, 0.03, 0.05, 0.07, 0.04, 0.0, 0.03, 0.06, 0.04, 0.0, -0.03,
         0.0, 0.03, 0.0, -0.03, 0.0, 0.03, 0.0, -0.04, -0.03, 0.0, 0.03, 0.0, -0.03, 0.0, 0.0,
         0.03, 0.0, -0.03, 0.0, 0.03, 0.0, -0.03, -0.05, 0.0, 0.03, 0.0, -0.03, 0.0, 0.03,
         0.0, -0.03, 0.0, 0.03, 0.0, -0.03, 0.0, 0.03, 0.0, -0.03, 0.0, 0.03, 0.0, 0.0]
C40_2 = [0.03, 0.0, 0.02, 0.04, 0.02, 0.0, -0.02, 0.02, 0.04, 0.06, 0.03, 0.0, 0.02, 0.05, 0.03, 0.0,
         -0.02, 0.0, 0.03, 0.01, -0.02, 0.0, 0.03, 0.0, -0.02, -0.03, 0.0, 0.03, 0.01, -0.02, 0.0,
         0.0, 0.03, 0.0, -0.03, 0.0, 0.03, 0.0, -0.02, -0.04, 0.0, 0.03, 0.0, -0.03, 0.0,
         0.03, 0.0, -0.03, 0.0, 0.03, 0.0, -0.03, 0.0, 0.03, 0.0, -0.03, 0.0, 0.03, 0.0]
C30_1 = [0.0, 0.02, 0.0, -0.02, 0.0, 0.03, 0.0, -0.02, 0.0, 0.02, 0.04, 0.02, 0.0, -0.02, 0.0, 0.03,
         0.02, 0.0, -0.03, -0.02, 0.0, 0.02, 0.0, -0.03, 0.0, 0.02, 0.0, -0.02, 0.0, 0.02, 0.0,
         -0.02, 0.0, 0.03, 0.0, -0.02, 0.0, 0.02, 0.0, -0.03, -0.04, 0.0, 0.02, 0.0, -0.02,
         0.0, 0.03, 0.0, -0.02, 0.0, 0.02, 0.0, -0.02, 0.0, 0.03, 0.0, -0.02, 0.0, 0.0]
C30_2 = [0.03, 0.05, 0.03, 0.0, -0.02, 0.0, 0.03, 0.02, 0.0, -0.02, 0.0, 0.03, 0.02, 0.0, -0.03, 0.0,
         0.02, 0.03, 0.0, -0.02, 0.0, 0.02, 0.0, -0.02, 0.0, 0.03, 0.0, -0.02, 0.0, 0.02, 0.0,
         0.02, -0.02, 0.0, 0.02, 0.0, -0.02, 0.0, 0.03, 0.0, -0.02, 0.0, 0.02, 0.0, -0.02,
         0.0, 0.02, 0.0, -0.03, 0.0, 0.02, 0.0, -0.02, 0.0, 0.02, 0.0, -0.02, 0.02, 0.0]
C20_1 = [0.0, 0.02, 0.0, -0.02, 0.0, 0.02, 0.04, 0.02, 0.0, -0.02, 0.0, 0.03, 0.05, 0.03, 0.0, -0.02,
         0.0, 0.02, 0.0, -0.03, -0.02, 0.0, 0.02, 0.0, -0.02, 0.0, 0.02, 0.0, -0.02, 0.0, 0.02,
         0.0, -0.02, 0.0, 0.02, 0.0, -0.02, 0.0, 0.02, 0.04, 0.0, -0.02, 0.0, 0.02, 0.0,
         -0.02, 0.0, 0.02, 0.0, -0.02, 0.0, 0.03, 0.0, -0.02, 0.0, 0.02, 0.0, -0.02, 0.0]
C20_2 = [0.02, 0.0, -0.02, 0.0, 0.02, 0.03, 0.02, 0.0, -0.02, 0.0, 0.02, 0.04, 0.02, 0.0, -0.02, 0.0,
         0.02, 0.0, -0.02, -0.03, 0.0, 0.02, 0.0, -0.02, 0.0, 0.02, 0.0, -0.02, 0.0, 0.02, 0.0,
         -0.02, 0.0, 0.02, 0.0, -0.02, 0.0, 0.02, 0.0, 0.02, 0.04, 0.0, -0.02, 0.0, 0.02,
         0.0, -0.02, 0.0, 0.02, 0.0, -0.02, 0.0, 0.02, 0.0, -0.02, 0.0, 0.02, 0.0, 0.0]

# ---------------- Panel D (right ear, red) ----------------
D_LABELS = ["90 R 2", "80 R 2", "75 R 2", "70 R 2", "60 R 2", "50 R 2", "40 R 2", "30 R 2", "20 R 2"]
D90_1 = [0.0, 0.08, 0.15, 0.12, 0.0, -0.02, 0.05, 0.2, 0.35, 0.4, 0.2, -0.15, -0.28, -0.1, 0.3, 0.55,
         0.6, 0.35, 0.15, 0.0, -0.12, -0.22, -0.3, -0.35, -0.3, -0.15, -0.05, 0.0, 0.02, 0.03, 0.03,
         0.05, 0.0, -0.07, -0.02, 0.05, 0.0, -0.03, -0.05, -0.05, -0.03, -0.05, -0.02, 0.0, -0.03,
         -0.02, -0.05, 0.0, 0.02, 0.0, -0.02, 0.02, 0.03, 0.05, 0.05, 0.03, 0.05, 0.05, 0.05]
D90_2 = [0.02, 0.1, 0.14, 0.1, 0.02, 0.0, 0.08, 0.22, 0.33, 0.38, 0.22, -0.12, -0.25, -0.08, 0.28, 0.52,
         0.62, 0.42, 0.2, 0.05, -0.1, -0.25, -0.35, -0.4, -0.38, -0.2, -0.08, -0.02, 0.0, 0.02, 0.05,
         0.03, 0.02, -0.05, 0.0, 0.03, 0.02, 0.0, -0.03, -0.02, -0.05, -0.03, 0.0, 0.02, 0.0,
         -0.05, -0.02, 0.02, 0.0, 0.02, 0.0, 0.0, 0.05, 0.03, 0.05, 0.05, 0.03, 0.05, 0.03]
D80_1 = [0.05, 0.02, 0.0, 0.02, 0.05, 0.03, 0.0, 0.02, 0.05, 0.03, 0.0, -0.05, -0.08, -0.05, 0.05, 0.15,
         0.18, 0.12, 0.05, 0.02, 0.0, -0.03, -0.06, -0.1, -0.08, -0.05, 0.0, 0.02, 0.03, 0.02, 0.0,
         0.02, 0.0, -0.03, 0.0, 0.02, 0.0, -0.02, 0.0, 0.02, -0.02, -0.03, 0.0, 0.02, 0.0,
         -0.02, 0.0, 0.02, 0.03, 0.0, 0.02, 0.0, 0.02, 0.03, 0.0, 0.02, 0.05, 0.05, 0.03]
D80_2 = [0.03, 0.0, 0.02, 0.05, 0.03, 0.0, 0.02, 0.05, 0.02, 0.0, -0.03, -0.06, -0.05, 0.0, 0.1, 0.18,
         0.2, 0.15, 0.08, 0.0, -0.05, -0.1, -0.15, -0.2, -0.15, -0.05, 0.0, 0.03, 0.0, 0.02, 0.03,
         0.0, 0.02, 0.0, -0.02, 0.0, 0.02, 0.0, -0.03, 0.0, 0.02, 0.0, -0.02, 0.0, 0.02,
         0.0, -0.02, 0.0, 0.02, 0.0, 0.0, 0.03, 0.0, 0.02, 0.03, 0.05, 0.03, 0.03, 0.05]
D75_1 = [0.0, 0.03, 0.05, 0.02, -0.03, -0.05, -0.02, 0.02, 0.0, -0.04, -0.06, -0.02, 0.03, 0.05, 0.02, -0.02,
         -0.03, 0.0, 0.03, 0.05, 0.02, 0.0, -0.02, 0.0, 0.03, 0.02, 0.0, -0.02, 0.0, 0.02, 0.0,
         0.03, -0.02, 0.05, 0.0, -0.03, 0.02, 0.06, 0.0, -0.03, 0.02, 0.0, -0.02, 0.03, 0.0,
         -0.03, 0.0, 0.02, 0.05, 0.0, -0.02, 0.02, 0.06, 0.02, -0.02, 0.0, 0.03, 0.0, 0.0]
D75_2 = [0.03, 0.0, 0.02, 0.04, 0.02, 0.0, 0.02, 0.04, 0.02, 0.0, -0.02, 0.0, 0.02, 0.0, -0.03, 0.0,
         0.02, 0.03, 0.0, -0.02, 0.0, 0.02, 0.03, 0.0, -0.02, 0.0, 0.02, 0.0, -0.02, 0.0, 0.02,
         0.0, 0.02, 0.0, 0.03, 0.0, -0.02, 0.0, 0.02, 0.0, -0.02, 0.03, 0.0, -0.02, 0.02,
         0.0, 0.03, 0.0, -0.02, 0.02, 0.0, 0.05, 0.02, 0.0, 0.03, 0.0, -0.02, 0.02, 0.0]
D70_1 = [0.0, 0.04, 0.02, 0.0, -0.02, 0.0, 0.02, 0.0, 0.02, 0.04, 0.02, 0.0, 0.02, 0.05, 0.03, 0.0,
         -0.02, 0.0, 0.02, 0.0, -0.02, 0.0, 0.02, 0.0, -0.02, 0.0, 0.02, 0.0, -0.02, 0.0, 0.02,
         0.0, -0.02, 0.0, 0.02, 0.0, -0.02, 0.0, 0.02, 0.0, -0.02, 0.0, 0.02, 0.0, -0.02,
         0.0, 0.02, 0.0, -0.02, 0.0, 0.02, 0.0, 0.03, 0.0, -0.02, 0.0, 0.02, 0.0, 0.0]
D70_2 = [0.03, 0.0, 0.04, 0.03, 0.0, 0.03, 0.0, -0.02, 0.0, 0.02, 0.0, -0.02, 0.0, 0.02, 0.0, -0.02,
         0.0, 0.03, 0.0, -0.02, 0.0, 0.02, 0.0, -0.02, 0.0, 0.02, 0.0, -0.02, 0.0, 0.02, 0.0,
         0.02, 0.0, -0.02, 0.0, 0.02, 0.0, -0.02, 0.0, 0.02, 0.0, -0.02, 0.0, 0.02, 0.0,
         -0.02, 0.0, 0.02, 0.0, -0.02, 0.0, 0.02, 0.0, 0.04, 0.02, 0.0, 0.0, 0.02, 0.0]
D60_1 = [0.0, 0.02, 0.0, 0.03, 0.05, 0.02, 0.0, 0.03, 0.0, -0.02, 0.0, 0.03, 0.0, -0.02, 0.0, 0.04,
         0.02, 0.0, -0.02, 0.0, 0.02, 0.0, -0.03, -0.04, 0.0, 0.02, 0.0, -0.02, 0.0, 0.02, 0.0,
         -0.03, 0.0, 0.02, 0.0, -0.02, 0.0, 0.03, 0.0, -0.02, 0.0, 0.02, 0.0, -0.02, 0.0,
         0.02, 0.0, -0.02, 0.0, 0.02, 0.0, -0.02, 0.0, 0.02, 0.0, 0.04, 0.0, 0.0, 0.0]
D60_2 = [0.02, 0.0, 0.03, 0.05, 0.03, 0.0, 0.02, 0.0, -0.02, 0.0, 0.02, 0.0, -0.02, 0.0, 0.03, 0.0,
         -0.02, 0.0, 0.02, 0.0, -0.02, -0.03, 0.0, 0.02, 0.0, -0.02, 0.0, 0.02, 0.0, -0.02, 0.0,
         0.02, 0.03, 0.0, -0.02, 0.0, 0.02, 0.0, -0.02, 0.0, 0.03, 0.0, -0.02, 0.0, 0.02,
         0.0, -0.02, 0.0, 0.02, 0.0, -0.02, 0.0, 0.02, 0.0, 0.0, 0.02, 0.05, 0.02, 0.0]
D50_1 = [0.0, 0.02, 0.0, -0.02, 0.0, 0.02, 0.0, -0.02, 0.0, 0.03, 0.0, -0.02, -0.04, 0.0, 0.02, 0.0,
         -0.02, 0.0, 0.02, 0.0, -0.02, 0.0, 0.02, 0.0, -0.02, 0.0, 0.02, 0.03, 0.0, -0.02, 0.0,
         0.02, 0.0, -0.04, 0.0, 0.02, 0.0, -0.02, 0.0, 0.02, 0.0, -0.02, 0.0, 0.04, 0.02,
         0.0, -0.02, 0.0, 0.02, 0.0, -0.02, 0.0, 0.02, 0.0, -0.02, 0.0, 0.02, 0.0, 0.0]
D50_2 = [0.02, 0.0, -0.02, 0.0, 0.02, 0.0, -0.02, -0.03, 0.0, 0.02, 0.0, -0.02, -0.02, 0.0, 0.02, 0.0,
         -0.02, 0.0, 0.02, 0.0, -0.02, 0.0, 0.02, 0.0, -0.03, 0.0, 0.02, 0.0, -0.02, 0.0, 0.02,
         0.0, -0.02, -0.03, 0.0, 0.02, 0.0, -0.02, 0.0, 0.02, 0.0, -0.02, 0.0, 0.03, 0.04,
         0.02, 0.0, -0.02, 0.0, 0.02, 0.0, -0.02, 0.0, 0.02, 0.0, -0.02, 0.0, 0.02, 0.0]
D40_1 = [0.0, 0.03, 0.0, -0.03, -0.02, 0.0, 0.02, 0.0, -0.02, 0.0, 0.02, 0.0, -0.02, 0.0, 0.02, 0.0,
         -0.02, -0.03, 0.0, 0.02, 0.0, -0.02, 0.0, 0.02, 0.0, -0.02, 0.0, 0.02, 0.03, 0.0, -0.02,
         0.0, 0.02, 0.0, -0.02, 0.0, 0.02, 0.0, 0.03, 0.05, 0.03, 0.0, 0.02, 0.04, 0.02,
         0.0, 0.03, 0.05, 0.06, 0.04, 0.02, 0.0, 0.02, 0.03, 0.0, 0.02, 0.0, 0.02, 0.0]
D40_2 = [0.03, 0.0, -0.03, 0.0, 0.03, 0.02, 0.0, -0.02, -0.03, -0.02, 0.0, 0.02, 0.0, -0.02, 0.0, 0.02,
         0.0, -0.02, 0.0, 0.02, 0.0, -0.02, -0.04, -0.02, 0.0, 0.02, 0.0, -0.02, 0.0, 0.02, 0.0,
         -0.02, 0.0, 0.02, 0.0, 0.02, 0.0, 0.02, 0.04, 0.02, 0.0, 0.02, 0.03, 0.0, 0.02,
         0.04, 0.06, 0.04, 0.02, 0.0, 0.02, 0.0, -0.02, 0.0, 0.02, 0.0, 0.02, 0.0, 0.0]
D30_1 = [0.0, 0.02, 0.0, -0.02, 0.0, 0.02, 0.0, 0.02, 0.04, 0.02, 0.0, -0.02, 0.0, 0.02, 0.0, -0.02,
         0.0, 0.02, 0.0, -0.02, 0.0, 0.02, 0.0, -0.02, 0.0, 0.02, 0.0, -0.02, 0.0, 0.02, 0.0,
         -0.02, 0.0, 0.02, 0.0, -0.02, 0.0, -0.03, -0.05, -0.02, 0.0, 0.02, 0.0, -0.02, 0.0,
         0.02, 0.0, -0.02, 0.0, 0.02, 0.0, -0.02, 0.0, 0.02, 0.0, -0.02, 0.0, 0.02, 0.0]
D30_2 = [0.02, 0.0, -0.02, 0.0, 0.03, 0.05, 0.02, 0.0, 0.02, 0.0, -0.02, 0.0, 0.02, 0.0, -0.02, 0.0,
         0.02, 0.0, -0.02, 0.0, 0.02, 0.0, -0.02, 0.0, 0.02, 0.0, -0.02, 0.0, 0.02, 0.0, -0.02,
         0.0, 0.02, 0.0, -0.02, 0.0, 0.02, 0.0, -0.02, 0.0, 0.02, 0.0, -0.02, 0.0, 0.02,
         0.0, -0.02, 0.0, 0.02, 0.0, -0.02, 0.0, 0.02, 0.0, -0.02, 0.0, 0.02, 0.0, 0.0]
D20_1 = [0.0, 0.02, 0.0, -0.02, 0.0, 0.02, 0.0, -0.02, 0.0, 0.02, 0.03, 0.0, -0.02, 0.0, 0.02, 0.0,
         -0.02, 0.0, 0.02, 0.0, -0.02, 0.0, 0.02, 0.0, -0.02, 0.0, 0.02, 0.0, -0.02, 0.0, 0.02,
         0.0, -0.02, 0.0, 0.02, 0.0, -0.02, 0.0, 0.02, 0.0, -0.02, 0.0, 0.02, 0.04, 0.0,
         -0.05, -0.02, 0.0, 0.02, 0.0, -0.02, 0.0, 0.02, 0.0, -0.02, 0.0, 0.02, 0.0, 0.0]
D20_2 = [0.02, 0.0, -0.02, 0.0, 0.02, 0.04, 0.02, 0.0, -0.02, 0.0, 0.02, 0.0, -0.02, 0.0, 0.02, 0.0,
         -0.02, 0.0, 0.02, 0.0, -0.02, 0.0, 0.02, 0.0, -0.02, 0.0, 0.02, 0.0, -0.02, 0.0, 0.02,
         0.0, 0.02, 0.0, -0.02, 0.0, 0.02, 0.0, -0.02, 0.0, 0.02, 0.0, -0.02, 0.0, 0.02,
         0.0, -0.02, 0.0, 0.02, 0.0, -0.02, 0.0, 0.02, 0.0, -0.02, 0.0, 0.02, 0.0, 0.0]

A_TRACES = [(A90_1, A90_2), (A80_1, A80_2), (A70_1, A70_2), (A60_1, A60_2), (A50_1, A50_2),
            (A40_1, A40_2), (A30_1, A30_2), (A20_1, A20_2), (A10_1, A10_2)]
B_TRACES = [(B90_1, B90_2), (B80_1, B80_2), (B70_1, B70_2), (B60_1, B60_2), (B50_1, B50_2),
            (B45_1, B45_2), (B40_1, B40_2), (B35_1, B35_2), (B30_1, B30_2), (B20_1, B20_2)]
C_TRACES = [(C90_1, C90_2), (C80_1, C80_2), (C70_1, C70_2), (C60_1, C60_2), (C50_1, C50_2),
            (C45_1, C45_2), (C40_1, C40_2), (C30_1, C30_2), (C20_1, C20_2)]
D_TRACES = [(D90_1, D90_2), (D80_1, D80_2), (D75_1, D75_2), (D70_1, D70_2), (D60_1, D60_2),
            (D50_1, D50_2), (D40_1, D40_2), (D30_1, D30_2), (D20_1, D20_2)]

# ---------------- layout / style (pixel geometry) ----------------
W, H = 785, 701
BLUE = "rgba(50,155,228,0.85)"
RED = "rgba(238,75,75,0.8)"

PANELS = [
    dict(letter="A", xdom=(20, 405), ydom=(1, 421), t0=50, ms=17.84, uv=35.7,
         base=[97, 133, 172, 210, 248, 286, 324, 362, 399], labx=34,
         labels=A_LABELS, traces=A_TRACES, color=BLUE, refs=[0],
         dots=(30, 17.84, 418), scale=(294, 357, 37), letpos=(10, 416)),
    dict(letter="B", xdom=(446, 771), ydom=(1, 423), t0=451, ms=16.16, uv=32.3,
         base=[121, 191, 248, 276, 303, 330, 352, 369, 386, 403], labx=437,
         labels=B_LABELS, traces=B_TRACES, color=BLUE, refs=[0, 1, 2],
         dots=(33, 16.16, 420), scale=(671, 730, 33), letpos=(414, 417)),
    dict(letter="C", xdom=(20, 405), ydom=(475, 701), t0=50, ms=17.84, uv=35.7,
         base=[524, 544, 562, 582, 601, 620, 639, 658, 677], labx=34,
         labels=C_LABELS, traces=C_TRACES, color=RED, refs=[0, 1, 3],
         dots=(493, 18.3, 700), scale=(294, 357, 512), letpos=(10, 686)),
    dict(letter="D", xdom=(450, 783), ydom=(437, 701), t0=453, ms=16.6, uv=33.2,
         base=[464, 491, 514, 540, 566, 590, 615, 640, 665], labx=438,
         labels=D_LABELS, traces=D_TRACES, color=RED, refs=[0],
         dots=(455, 25.2, 700), scale=(680, 739, 473), letpos=(414, 686)),
]

FRAMES = [  # x0, y0, x1, y1, color, width (pixels)
    (20, 0, 20, 421, "#d8d8d8", 1), (20, 1, 405, 1, "#ececec", 1), (20, 421, 405, 421, "#9a9a9a", 2),
    (446, 423, 771, 423, "#9a9a9a", 2), (771, 0, 771, 423, "#9a9a9a", 1.5),
    (20, 475, 20, 701, "#d8d8d8", 1), (20, 475, 405, 475, "#ececec", 1),
    (783, 437, 783, 701, "#b5b5b5", 1.5),
]

for _name, _arr in list(globals().items()):
    if _name[:1] in "ABCD" and _name[1:3].isdigit() and isinstance(_arr, list):
        if len(_arr) != len(T):
            raise ValueError(f"{_name} has {len(_arr)} values, expected {len(T)}")

fig = go.Figure()
shapes, annotations = [], []
layout_axes = {}

for i, p in enumerate(PANELS, start=1):
    xname = "x" if i == 1 else f"x{i}"
    yname = "y" if i == 1 else f"y{i}"
    base0 = p["base"][0]
    xr = [(p["xdom"][0] - p["t0"]) / p["ms"], (p["xdom"][1] - p["t0"]) / p["ms"]]
    yr = [(base0 - p["ydom"][1]) / p["uv"], (base0 - p["ydom"][0]) / p["uv"]]
    offs = [(base0 - b) / p["uv"] for b in p["base"]]

    layout_axes["xaxis" if i == 1 else f"xaxis{i}"] = dict(
        domain=[p["xdom"][0] / W, p["xdom"][1] / W], range=xr, side="top",
        anchor=yname, tickvals=TICK_VALS, ticktext=TICK_TEXT, ticks="",
        ticklabelposition="inside", tickfont=dict(size=7, color="#a0a0a0", family="Open Sans"),
        showgrid=False, zeroline=False, showline=False, fixedrange=True)
    layout_axes["yaxis" if i == 1 else f"yaxis{i}"] = dict(
        domain=[1 - p["ydom"][1] / H, 1 - p["ydom"][0] / H], range=yr, anchor=xname,
        visible=False, showgrid=False, zeroline=False, fixedrange=True)

    # dotted grid
    rows = np.arange(p["dots"][0], p["dots"][2], p["dots"][1])
    gy = (base0 - rows) / p["uv"]
    gx, gyy = np.meshgrid(np.array(TICK_VALS, dtype=float), gy)
    fig.add_trace(go.Scatter(x=gx.ravel(), y=gyy.ravel(), mode="markers", xaxis=xname, yaxis=yname,
                             marker=dict(symbol="cross-thin", size=2.5, line=dict(width=1, color="#d2d2d2")),
                             hoverinfo="skip", showlegend=False))

    # reference baselines
    for r in p["refs"]:
        shapes.append(dict(type="line", xref=xname, yref=yname, x0=(p["labx"] + 12 - p["t0"]) / p["ms"],
                           x1=xr[1], y0=offs[r], y1=offs[r], layer="below",
                           line=dict(color="#d8d8d8", width=1)))

    # waveforms (two replicates per level)
    for off, (r1, r2), lab in zip(offs, p["traces"], p["labels"]):
        for rep in (r1, r2):
            fig.add_trace(go.Scatter(x=T, y=[off + v for v in rep], mode="lines",
                                     xaxis=xname, yaxis=yname,
                                     line=dict(color=p["color"], width=1, shape="spline", smoothing=0.9),
                                     hoverinfo="skip", showlegend=False, name=lab))
        annotations.append(dict(x=p["labx"] / W, xref="paper", y=off, yref=yname, text=lab,
                                showarrow=False, xanchor="center", yanchor="middle",
                                font=dict(size=7.5, color="#333", family="Open Sans"),
                                bgcolor="white", bordercolor="#555", borderwidth=1, borderpad=1))

    # scale text
    sx1, sx2, sy = p["scale"]
    for txt, sx in (("1 ms", sx1), ("0.5 µV", sx2)):
        annotations.append(dict(x=sx / W, y=1 - sy / H, xref="paper", yref="paper", text=txt,
                                showarrow=False, xanchor="center", yanchor="middle",
                                font=dict(size=17, color="#8a8a8a", family="Open Sans")))
    # panel letter
    lx, ly = p["letpos"]
    annotations.append(dict(x=lx / W, y=1 - ly / H, xref="paper", yref="paper", text=p["letter"],
                            showarrow=False, xanchor="center", yanchor="middle",
                            font=dict(size=21, color="#111", family="Liberation Serif")))

for x0, y0, x1, y1, c, w in FRAMES:
    shapes.append(dict(type="line", xref="paper", yref="paper", x0=x0 / W, x1=x1 / W,
                       y0=1 - y0 / H, y1=1 - y1 / H, line=dict(color=c, width=w)))

fig.update_layout(width=W, height=H, margin=dict(l=0, r=0, t=0, b=0),
                  paper_bgcolor="white", plot_bgcolor="white", showlegend=False,
                  shapes=shapes, annotations=annotations, **layout_axes)

fig.write_html("out.html")
